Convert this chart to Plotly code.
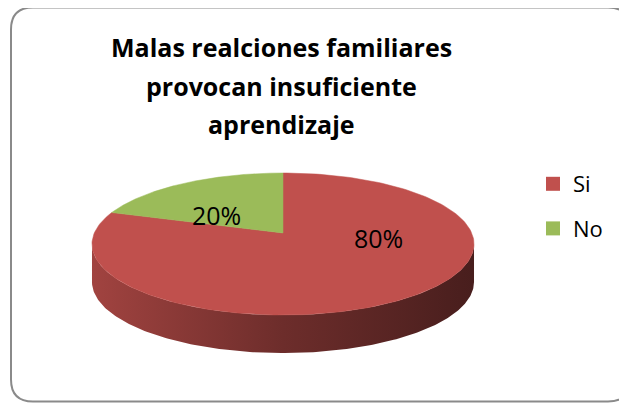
import numpy as np
import plotly.graph_objects as go

# ---- data ----
labels = ["Si", "No"]
values = [80, 20]
colors = ["#C0504D", "#9BBB59"]
title_lines = ["Malas realciones familiares", "provocan insuficiente", "aprendizaje"]

# page is 627x403; the html body has an 8px margin, so the figure is
# 619x395 and its axes are expressed in page pixels
PAGE_W, PAGE_H, BODY = 627, 403, 8
W, H = PAGE_W - BODY, PAGE_H - BODY
FONT = "Open Sans"

# ---- 3D pie geometry (page pixel space) ----
VX, VY = 283, 233      # projected pie centre
CY, B, CXR = 69.3, 0.155, 188.7
DEPTH = 38


def proj(theta, dy=0.0):
    s = np.sin(theta)
    c = np.cos(theta)
    den = 1 + B * s
    return VX + CXR * c / den, VY - CY * s / den + dy


def shade(hexc, f):
    h = hexc.lstrip("#")
    r, g, b = (int(h[i:i + 2], 16) for i in (0, 2, 4))
    return "rgb(%d,%d,%d)" % (r * f, g * f, b * f)


fig = go.Figure()

# side wall (front, visible part belongs to first slice)
a0 = np.pi + np.arcsin(B)
a1 = 2 * np.pi - np.arcsin(B)
t = np.linspace(a0, a1, 200)
xt, yt = proj(t)
xb, yb = proj(t[::-1], DEPTH)
fig.add_trace(go.Scatter(
    x=np.concatenate([xt, xb]), y=np.concatenate([yt, yb]),
    fill="toself", mode="lines", line=dict(width=0),
    fillgradient=dict(type="horizontal", colorscale=[
        [0, shade(colors[0], 0.84)], [0.5, shade(colors[0], 0.57)],
        [1, shade(colors[0], 0.38)]]),
    hoverinfo="skip", showlegend=False))

# top faces
total = sum(values)
start = np.pi / 2
for lab, v, col in zip(labels, values, colors):
    sweep = v / total * 2 * np.pi
    tt = np.linspace(start, start - sweep, 200)
    x, y = proj(tt)
    fig.add_trace(go.Scatter(
        x=np.concatenate([[VX], x, [VX]]), y=np.concatenate([[VY], y, [VY]]),
        fill="toself", mode="lines", line=dict(width=0.5, color=col),
        fillcolor=col, hoverinfo="skip", showlegend=False))
    start -= sweep

# legend entries
for i, (lab, col) in enumerate(zip(labels, colors)):
    fig.add_trace(go.Scatter(
        x=[None], y=[None], mode="markers", name=lab, legendgroup=lab,
        marker=dict(symbol="square", size=14, color=col)))

# percentage labels
label_pos = [(378, 238), (216, 215)]
for (lx, ly), v in zip(label_pos, values):
    fig.add_annotation(x=lx, y=ly, text="%d%%" % round(v / total * 100),
                       showarrow=False, font=dict(family=FONT, size=25, color="#000"))

# title
for i, line in enumerate(title_lines):
    fig.add_annotation(x=281, y=47 + 38.5 * i, text="<b>%s</b>" % line, showarrow=False,
                       font=dict(family=FONT, size=25, color="#000"))

# rounded frame
x0, y0, x1, y1, r = 11, 7.5, 630, 401.5, 22
path = (f"M {x0+r},{y0} L {x1-r},{y0} Q {x1},{y0} {x1},{y0+r} L {x1},{y1-r} "
        f"Q {x1},{y1} {x1-r},{y1} L {x0+r},{y1} Q {x0},{y1} {x0},{y1-r} "
        f"L {x0},{y0+r} Q {x0},{y0} {x0+r},{y0} Z")
fig.add_shape(type="path", path=path, xref="x", yref="y",
              line=dict(color="#8a8a8a", width=2))

fig.update_layout(
    width=W, height=H, margin=dict(l=0, r=0, t=0, b=0),
    paper_bgcolor="white", plot_bgcolor="white",
    xaxis=dict(range=[BODY, PAGE_W], visible=False, fixedrange=True),
    yaxis=dict(range=[PAGE_H, BODY], visible=False, fixedrange=True),
    showlegend=True,
    legend=dict(x=(533 - BODY) / W, y=1 - (163 - BODY) / H, xanchor="left", yanchor="top",
                font=dict(family=FONT, size=22, color="#000"),
                traceorder="grouped", tracegroupgap=13, itemwidth=30,
                bgcolor="rgba(0,0,0,0)"),
)

fig.write_html("out.html")
